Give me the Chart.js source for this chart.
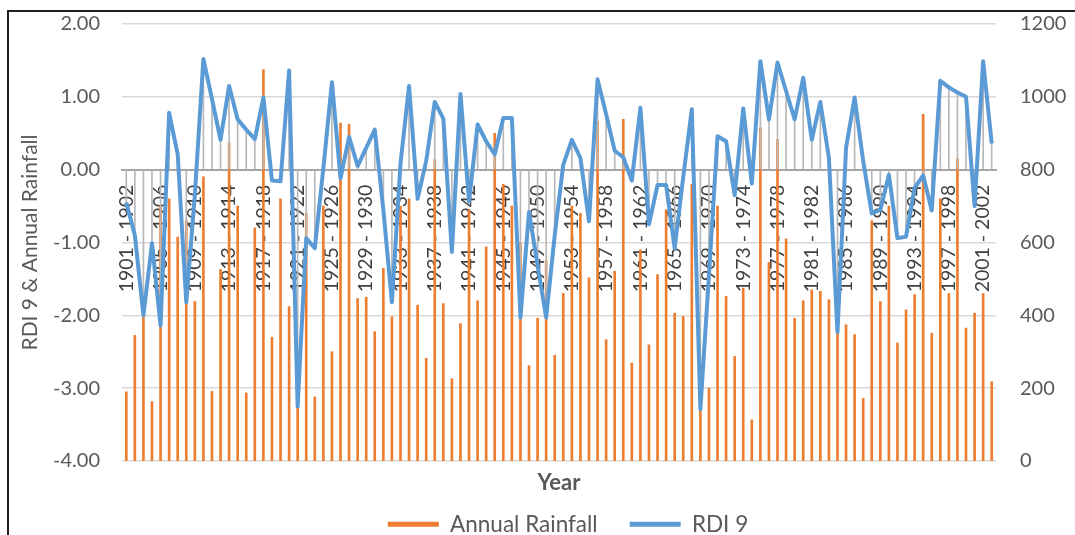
<!DOCTYPE html>
<html>
<head>
<meta charset="utf-8">
<title>RDI 9 & Annual Rainfall</title>
<script src="https://cdn.jsdelivr.net/npm/chart.js@4.4.1/dist/chart.umd.min.js"></script>
<style>
    html, body { margin: 0; padding: 0; background: #fff; overflow: hidden; }
    #frame {
        position: absolute; left: 7px; top: 10px; width: 1200px; height: 700px;
        border-top: 2px solid #1e1e1e; border-left: 2px solid #1e1e1e;
    }
    #wrap { position: absolute; left: 0; top: 0; width: 1136px; height: 535px; }
</style>
</head>
<body>
<div id="frame"></div>
<div id="wrap"><canvas id="myChart"></canvas></div>
<script>
// hydrological years 1901 - 1902 ... 2002 - 2003
const firstYear = 1901;
const yearCount = 102;
const years = [];
for (let i = 0; i < yearCount; i++) {
    years.push((firstYear + i) + ' - ' + (firstYear + i + 1));
}

// annual rainfall (mm), right axis
const rainfall = [
    190, 345, 405, 163, 700, 720, 615, 660, 438, 780,
    191, 526, 873, 700, 187, 640, 1075, 340, 720, 424,
    150, 680, 176, 700, 300, 928, 925, 446, 450, 355,
    529, 396, 700, 720, 428, 282, 828, 432, 226, 377,
    690, 440, 588, 900, 760, 700, 600, 262, 392, 550,
    290, 460, 700, 680, 503, 933, 333, 521, 938, 269,
    580, 319, 512, 690, 406, 397, 760, 140, 200, 700,
    452, 287, 475, 113, 915, 545, 883, 610, 392, 440,
    470, 466, 443, 356, 374, 347, 172, 660, 438, 700,
    324, 415, 457, 952, 351, 720, 460, 830, 365, 406,
    460, 218
];

// RDI 9, left axis
const rdi9 = [
    -0.45, -0.90, -2.00, -1.01, -2.14, 0.78, 0.21, -1.82, -0.35, 1.52,
    0.97, 0.41, 1.15, 0.69, 0.55, 0.42, 0.99, -0.15, -0.16, 1.36,
    -3.25, -0.94, -1.08, 0.02, 1.20, -0.12, 0.45, 0.05, 0.30, 0.55,
    -0.55, -1.82, 0.08, 1.15, -0.40, 0.12, 0.93, 0.70, -1.13, 1.04,
    -0.44, 0.62, 0.39, 0.21, 0.71, 0.71, -2.03, -0.58, -1.31, -2.03,
    -0.90, 0.07, 0.41, 0.16, -0.71, 1.24, 0.76, 0.26, 0.17, -0.15,
    0.85, -0.75, -0.21, -0.21, -1.08, -0.10, 0.83, -3.29, -1.45, 0.46,
    0.39, -0.35, 0.84, -0.19, 1.49, 0.69, 1.47, 1.08, 0.69, 1.26,
    0.41, 0.93, 0.16, -2.23, 0.30, 0.99, 0.12, -0.60, -0.55, -0.07,
    -0.94, -0.92, -0.25, -0.08, -0.56, 1.22, 1.13, 1.06, 1.00, -0.50,
    1.49, 0.36
];

const leftTicks = { min: -4, max: 2, step: 1 };
const rightTicks = { min: 0, max: 1200, step: 200 };

Chart.defaults.font.family = 'Lato, "Open Sans", sans-serif';
Chart.defaults.color = '#595959';

// y axes: fixed width, and keep tick padding from pushing the plot top down
function fixAxis(width) {
    return s => {
        s.width = width;
        s.paddingTop = 12;
        s.paddingBottom = 12;
    };
}

const ctx = document.getElementById('myChart').getContext('2d');
const myChart = new Chart(ctx, {
    type: 'bar',
    data: {
        labels: years,
        datasets: [
            {
                label: 'Annual Rainfall',
                data: rainfall,
                yAxisID: 'y1',
                xAxisID: 'x',
                backgroundColor: '#ed7d31',
                borderWidth: 0,
                barThickness: 2,
                order: 2
            },
            {
                type: 'line',
                label: 'RDI 9',
                data: rdi9,
                yAxisID: 'y',
                xAxisID: 'x',
                borderColor: '#5b9bd5',
                backgroundColor: '#5b9bd5',
                borderWidth: 4,
                borderJoinStyle: 'round',
                pointRadius: 0,
                tension: 0,
                order: 0
            },
            {
                // drop lines from each RDI point to the zero line
                label: 'drop',
                data: rdi9.map(v => [0, v]),
                yAxisID: 'y',
                xAxisID: 'x',
                backgroundColor: '#b8b8b8',
                barThickness: 1,
                grouped: false,
                order: 1
            }
        ]
    },
    options: {
        responsive: true,
        maintainAspectRatio: false,
        animation: false,
        devicePixelRatio: 1,
        layout: { padding: { top: 24, left: 0, right: 0, bottom: 0 } },
        scales: {
            x: {
                type: 'category',
                position: { y: 0 },
                offset: true,
                grid: { display: false, drawTicks: false },
                border: { display: true, color: '#a6a6a6', width: 2 },
                ticks: {
                    autoSkip: false,
                    minRotation: 90,
                    maxRotation: 90,
                    padding: 15,
                    color: '#404040',
                    font: { size: 19.5 },
                    callback: function (value, index) {
                        return index % 4 === 0 ? this.getLabelForValue(value) : '';
                    }
                }
            },
            xTitle: {
                type: 'category',
                axis: 'x',
                position: 'bottom',
                offset: true,
                grid: { display: false, drawTicks: false },
                border: { display: false },
                ticks: { display: false },
                title: {
                    display: true,
                    text: 'Year',
                    color: '#595959',
                    font: { size: 22, weight: 'bold' },
                    padding: { top: 0, bottom: -15 }
                },
                afterFit: s => { s.height = 20; }
            },
            y: {
                position: 'left',
                min: leftTicks.min,
                max: leftTicks.max,
                ticks: {
                    stepSize: leftTicks.step,
                    padding: 22,
                    color: '#595959',
                    font: { size: 20 },
                    callback: v => v.toFixed(2)
                },
                grid: { color: '#d9d9d9', lineWidth: 1.5, drawTicks: false },
                border: { display: false },
                title: {
                    display: true,
                    text: 'RDI 9 & Annual Rainfall',
                    color: '#595959',
                    font: { size: 21 },
                    padding: { top: 18, bottom: 0 }
                },
                afterFit: fixAxis(122)
            },
            y1: {
                position: 'right',
                min: rightTicks.min,
                max: rightTicks.max,
                ticks: {
                    stepSize: rightTicks.step,
                    padding: 24,
                    color: '#595959',
                    font: { size: 20 },
                    callback: v => String(v)
                },
                grid: { display: false, drawTicks: false },
                border: { display: false },
                afterFit: fixAxis(140)
            }
        },
        plugins: {
            tooltip: { enabled: false },
            legend: {
                position: 'bottom',
                maxHeight: 54,
                labels: {
                    boxWidth: 51,
                    boxHeight: 5,
                    padding: 32,
                    color: '#595959',
                    font: { size: 22.5 },
                    sort: (a, b) => a.datasetIndex - b.datasetIndex,
                    generateLabels: chart => Chart.defaults.plugins.legend.labels.generateLabels(chart)
                        .filter(item => item.datasetIndex !== 2)
                        .map(item => Object.assign(item, { lineWidth: 0 }))
                }
            }
        }
    }
});
</script>
</body>
</html>
